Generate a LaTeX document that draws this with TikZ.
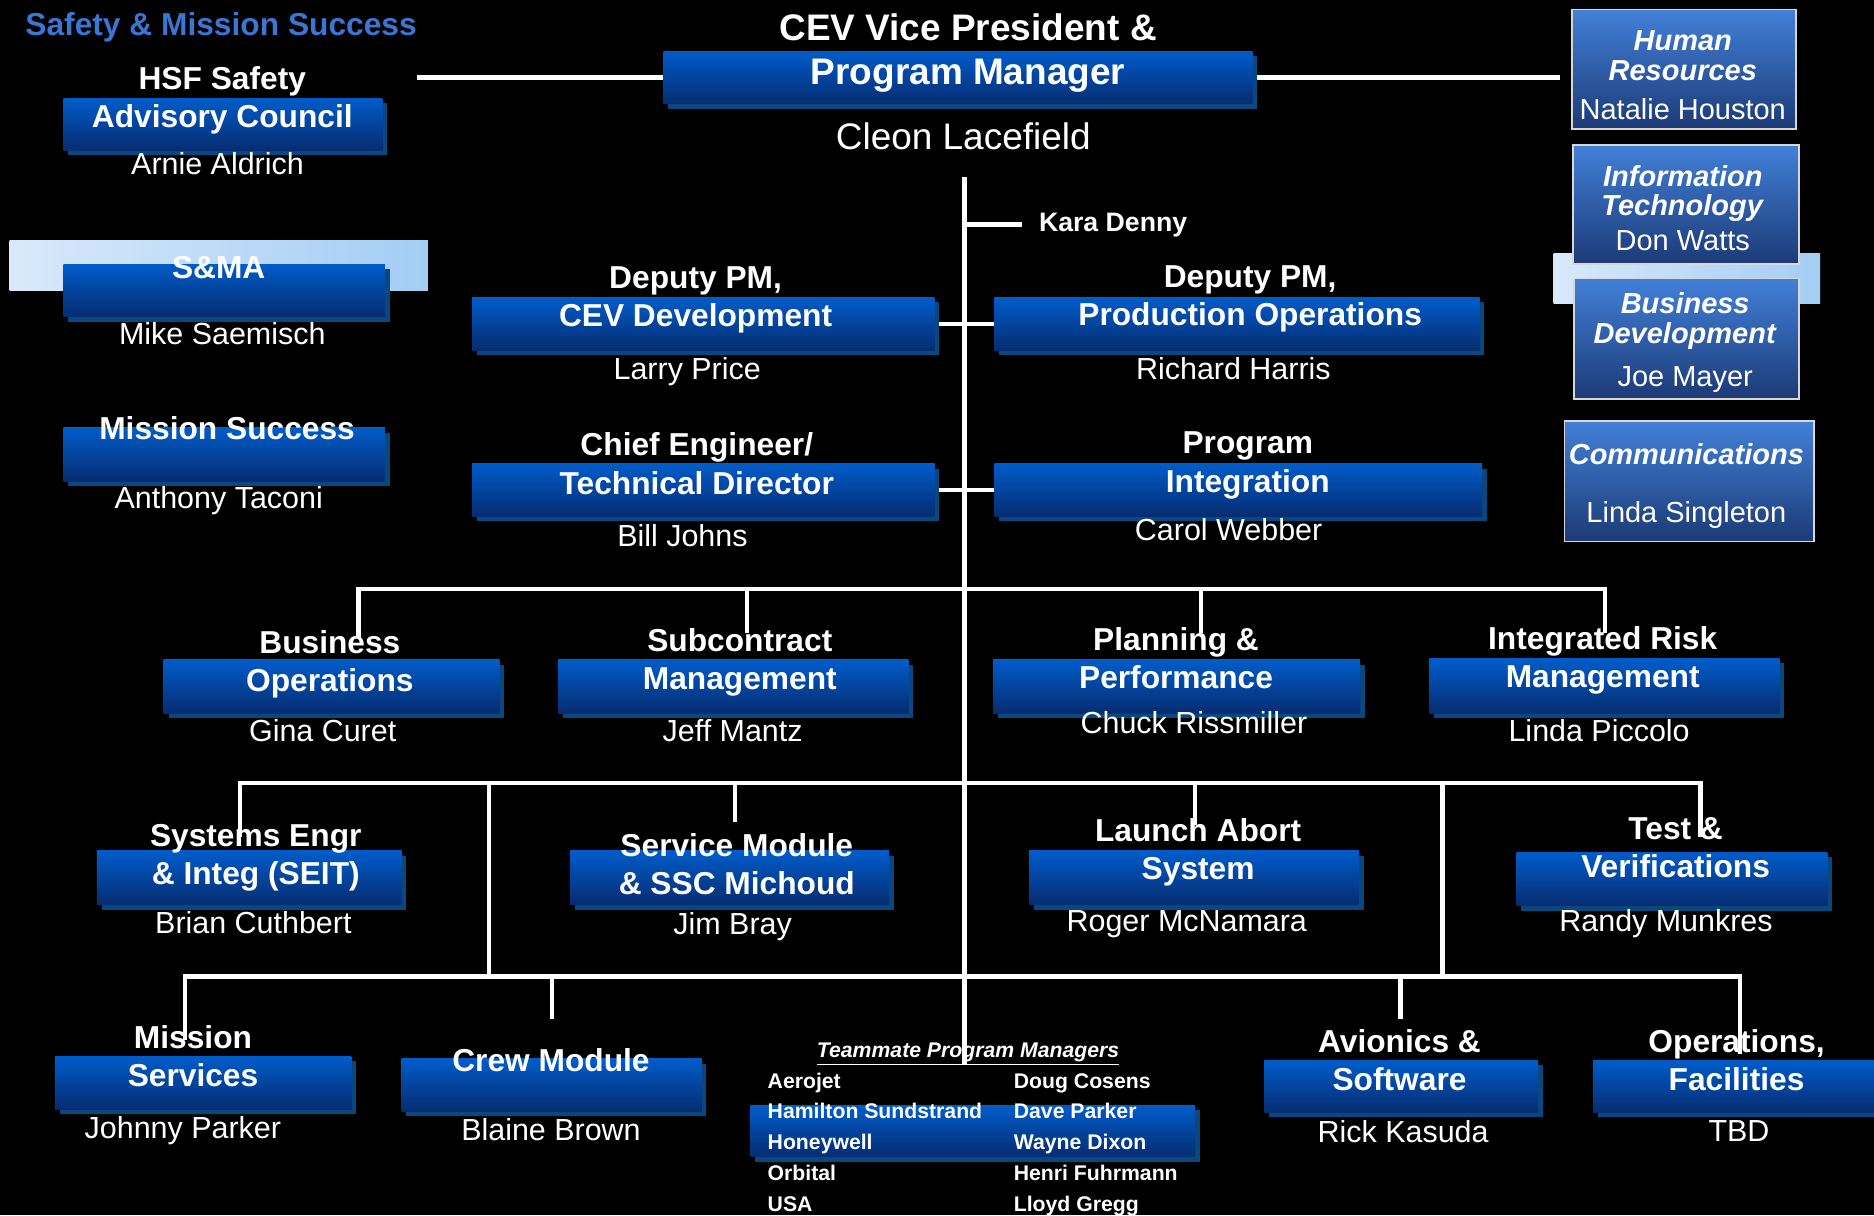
\documentclass[tikz,border=0pt]{standalone}
\usepackage{fontspec}
\setmainfont{Liberation Sans}
\usetikzlibrary{positioning, shadows, backgrounds}

\definecolor{boxtop}{RGB}{0,92,202}
\definecolor{boxbot}{RGB}{6,44,112}
\definecolor{boxshade}{RGB}{8,72,126}
\definecolor{sidetop}{RGB}{66,128,216}
\definecolor{sidebot}{RGB}{28,58,118}
\definecolor{sideedge}{RGB}{215,215,215}
\definecolor{stripleft}{RGB}{216,233,251}
\definecolor{stripright}{RGB}{163,205,245}
\definecolor{headblue}{RGB}{58,118,212}

\newcommand{\bfit}[1]{\textbf{\textit{#1}}}

\begin{document}
\begin{tikzpicture}[
    x=0.2mm, y=-0.2mm,
    every node/.style={text=white, inner sep=0pt, align=center},
    unitbox/.style={rectangle, top color=boxtop, bottom color=boxbot, minimum height=44*0.2mm,
        drop shadow={shadow xshift=0.8mm, shadow yshift=-0.8mm, fill=boxshade, opacity=1}},
    sidebox/.style={rectangle, top color=sidetop, bottom color=sidebot, draw=sideedge, line width=0.3mm,
        minimum width=188*0.2mm, minimum height=100*0.2mm},
    sidetext/.style={font=\fontsize{13.8}{14.2}\selectfont},
    strip/.style={rectangle, left color=stripleft, right color=stripright, minimum height=42*0.2mm},
    title/.style={font=\fontsize{15.1}{18.2}\selectfont\bfseries},
    person/.style={font=\fontsize{14.5}{17}\selectfont},
    link/.style={draw=white, line width=0.75mm}
]
    \useasboundingbox (0,0) rectangle (1568,1017);

    % Safety & Mission Success
    \node[title, text=headblue] (sms) at (185,23) {Safety \& Mission Success};
    \node[unitbox, minimum width=267*0.2mm] (hsf) at (186.5,104) {};
    \node[title] (hsf-t) at (186,84) {HSF Safety\\Advisory Council};
    \node[person] (hsf-p) at (182,137) {Arnie Aldrich};

    \node[strip, minimum width=350*0.2mm] (sma-strip) at (183,222) {};
    \node[unitbox, minimum width=269*0.2mm] (sma) at (187.5,243) {};
    \node[title] (sma-t) at (183,224) {S\&MA};
    \node[person] (sma-p) at (186,279) {Mike Saemisch};

    \node[unitbox, minimum width=269*0.2mm, minimum height=45*0.2mm] (msucc) at (187.5,380.5) {};
    \node[title] (msucc-t) at (190,358) {Mission Success};
    \node[person] (msucc-p) at (183,419) {Anthony Taconi};

    % Program manager and deputies
    \node[unitbox, minimum width=493*0.2mm] (pm) at (801.5,65) {};
    \node[font=\fontsize{17.6}{21}\selectfont\bfseries] (pm-t) at (810,44) {CEV Vice President \&\\Program Manager};
    \node[font=\fontsize{17.6}{21}\selectfont] (lacefield) at (806,114) {Cleon Lacefield};
    \node[font=\fontsize{12.7}{15}\selectfont\bfseries, anchor=west] (kara) at (869,188) {Kara Denny};

    \node[unitbox, minimum width=387*0.2mm] (cevdev) at (588.5,271) {};
    \node[title] (cevdev-t) at (582,251) {Deputy PM,\\CEV Development};
    \node[person] (cevdev-p) at (575,311) {Larry Price};

    \node[unitbox, minimum width=406*0.2mm] (prodops) at (1035,271) {};
    \node[title] (prodops-t) at (1046,250) {Deputy PM,\\Production Operations};
    \node[person] (prodops-p) at (1032,308) {Richard Harris};

    \node[unitbox, minimum width=387*0.2mm] (chief) at (588.5,410) {};
    \node[title] (chief-t) at (583,388) {Chief Engineer/\\Technical Director};
    \node[person] (chief-p) at (571,448) {Bill Johns};

    \node[unitbox, minimum width=408*0.2mm] (integ) at (1036,410) {};
    \node[title] (integ-t) at (1044,389.5) {Program\\Integration};
    \node[person] (integ-p) at (1028,443) {Carol Webber};

    % Staff offices
    \node[sidebox] (hr) at (1409,58) {};
    \node[sidetext] (hr-t) at (1408,63) {\bfit{Human}\\\bfit{Resources}\\[4.6pt]Natalie Houston};
    \node[strip, minimum width=223*0.2mm] (dev-strip) at (1411.5,233) {};
    \node[sidebox, minimum width=189*0.2mm] (it) at (1410.5,171) {};
    \node[sidetext] (it-t) at (1408,174) {\bfit{Information}\\\bfit{Technology}\\[2.3pt]Don Watts};
    \node[sidebox, minimum height=101*0.2mm] (bizdev) at (1411,283.5) {};
    \node[sidetext] (bizdev-t) at (1410,286.5) {\bfit{Business}\\\bfit{Development}\\[6pt]Joe Mayer};
    \node[sidebox, minimum width=209*0.2mm, minimum height=101*0.2mm] (comms) at (1413.5,402.5) {};
    \node[sidetext] (comms-t) at (1411,406.5) {\bfit{Communications}\\[13.1pt]Linda Singleton};

    % Second row
    \node[unitbox, minimum width=281*0.2mm, minimum height=45*0.2mm] (busops) at (277.5,574.5) {};
    \node[title] (busops-t) at (276,556) {Business\\Operations};
    \node[person] (busops-p) at (270,611) {Gina Curet};

    \node[unitbox, minimum width=293*0.2mm, minimum height=45*0.2mm] (subk) at (613.5,574.5) {};
    \node[title] (subk-t) at (619,554.5) {Subcontract\\Management};
    \node[person] (subk-p) at (613,611) {Jeff Mantz};

    \node[unitbox, minimum width=307*0.2mm, minimum height=45*0.2mm] (plan) at (984.5,574.5) {};
    \node[title] (plan-t) at (984,550.5) {Planning \&\\Performance};
    \node[person] (plan-p) at (999,605) {Chuck Rissmiller};

    \node[unitbox, minimum width=293*0.2mm, minimum height=46*0.2mm] (risk) at (1342.5,574) {};
    \node[title] (risk-t) at (1341,552.5) {Integrated Risk\\Management};
    \node[person] (risk-p) at (1338,611) {Linda Piccolo};

    % Third row
    \node[unitbox, minimum width=255*0.2mm, minimum height=45*0.2mm] (seit) at (208.5,734.5) {};
    \node[title] (seit-t) at (214,717.5) {Systems Engr\\\& Integ (SEIT)};
    \node[person] (seit-p) at (212,772) {Brian Cuthbert};

    \node[unitbox, minimum width=267*0.2mm, minimum height=45*0.2mm] (svcmod) at (610.5,734.5) {};
    \node[title] (svcmod-t) at (616.5,723) {Service Module\\\& SSC Michoud};
    \node[person] (svcmod-p) at (613,775) {Jim Bray};

    \node[unitbox, minimum width=276*0.2mm, minimum height=45*0.2mm] (las) at (999,734.5) {};
    \node[title] (las-t) at (1002.5,713) {Launch Abort\\System};
    \node[person] (las-p) at (993,773) {Roger McNamara};

    \node[unitbox, minimum width=260*0.2mm, minimum height=45*0.2mm] (test) at (1399,735.5) {};
    \node[title] (test-t) at (1402,709) {Test \&\\Verifications};
    \node[person] (test-p) at (1394,773) {Randy Munkres};

    % Fourth row
    \node[unitbox, minimum width=248*0.2mm] (msvc) at (170,906) {};
    \node[title] (msvc-t) at (161.5,884) {Mission\\Services};
    \node[person] (msvc-p) at (153,946) {Johnny Parker};

    \node[unitbox, minimum width=251*0.2mm] (crew) at (461.5,908) {};
    \node[title] (crew-t) at (461,887) {Crew Module};
    \node[person] (crew-p) at (461,945) {Blaine Brown};

    \node[unitbox, minimum width=229*0.2mm] (avion) at (1172.5,909) {};
    \node[title] (avion-t) at (1171,887) {Avionics \&\\Software};
    \node[person] (avion-p) at (1174,947) {Rick Kasuda};

    \node[unitbox, minimum width=242*0.2mm] (opsfac) at (1454,909) {};
    \node[title] (opsfac-t) at (1453,887) {Operations,\\Facilities};
    \node[person] (opsfac-p) at (1455,946) {TBD};

    % Teammate program managers
    \node[unitbox, minimum width=372*0.2mm, minimum height=43*0.2mm] (tmbox) at (814,946.5) {};
    \node[font=\fontsize{10.1}{12}\selectfont\bfseries\itshape] (tm-head) at (810,882) {\underline{Teammate Program Managers}};
    \node[anchor=north west, font=\fontsize{10.1}{14.65}\selectfont\bfseries] (roster) at (642,892) {%
        \begin{tabular}[t]{@{}p{117.2pt}@{}l@{}}
        Aerojet & Doug Cosens\\
        Hamilton Sundstrand & Dave Parker\\
        Honeywell & Wayne Dixon\\
        Orbital & Henri Fuhrmann\\
        USA & Lloyd Gregg
        \end{tabular}};

    % Connectors
    \begin{scope}[on background layer]
        \fill[black] (0,0) rectangle (1568,1017);

        \coordinate (trunktop) at (807,148);
        \coordinate (trunkbot) at (807,890);
        \coordinate (bar2) at (807,493);
        \coordinate (bar3) at (807,655);
        \coordinate (bar4) at (807,817);

        \draw[link] (pm.west) -- (pm.west -| sms.east);
        \draw[link, shorten >=1.8mm] (pm.east) -- (pm.east -| hr.west);
        \draw[link] (trunktop) -- (trunkbot);
        \draw[link, shorten >=2.8mm] (kara.west -| trunktop) -- (kara.west);
        \draw[link] (cevdev.east) -- (prodops.west);
        \draw[link] (chief.east) -- (integ.west);

        % level 2
        \coordinate (busops-in) at (300,533);
        \coordinate (subk-in) at (625,530);
        \coordinate (plan-in) at (1005,530);
        \coordinate (risk-in) at (1343,530);
        \draw[link] (busops-in) |- (bar2) -| (risk-in);
        \draw[link] (subk-in) -- (subk-in |- bar2);
        \draw[link] (plan-in) -- (plan-in |- bar2);

        % level 3
        \coordinate (seit-in) at (201,700);
        \coordinate (svcmod-in) at (615,688);
        \coordinate (las-in) at (1000,690);
        \coordinate (test-in) at (1423,700);
        \draw[link] (seit-in) |- (bar3) -| (test-in);
        \draw[link] (svcmod-in) -- (svcmod-in |- bar3);
        \draw[link] (las-in) -- (las-in |- bar3);

        % risers to level 4
        \coordinate (riser-l) at (409,655);
        \coordinate (riser-r) at (1207,655);
        \draw[link] (riser-l) -- (riser-l |- bar4);
        \draw[link] (riser-r) -- (riser-r |- bar4);

        % level 4
        \coordinate (msvc-in) at (155,870);
        \coordinate (crew-in) at (462,853);
        \coordinate (avion-in) at (1172,853);
        \coordinate (opsfac-in) at (1456,882);
        \draw[link] (msvc-in) |- (bar4) -| (opsfac-in);
        \draw[link] (crew-in) -- (crew-in |- bar4);
        \draw[link] (avion-in) -- (avion-in |- bar4);
    \end{scope}
\end{tikzpicture}
\end{document}
